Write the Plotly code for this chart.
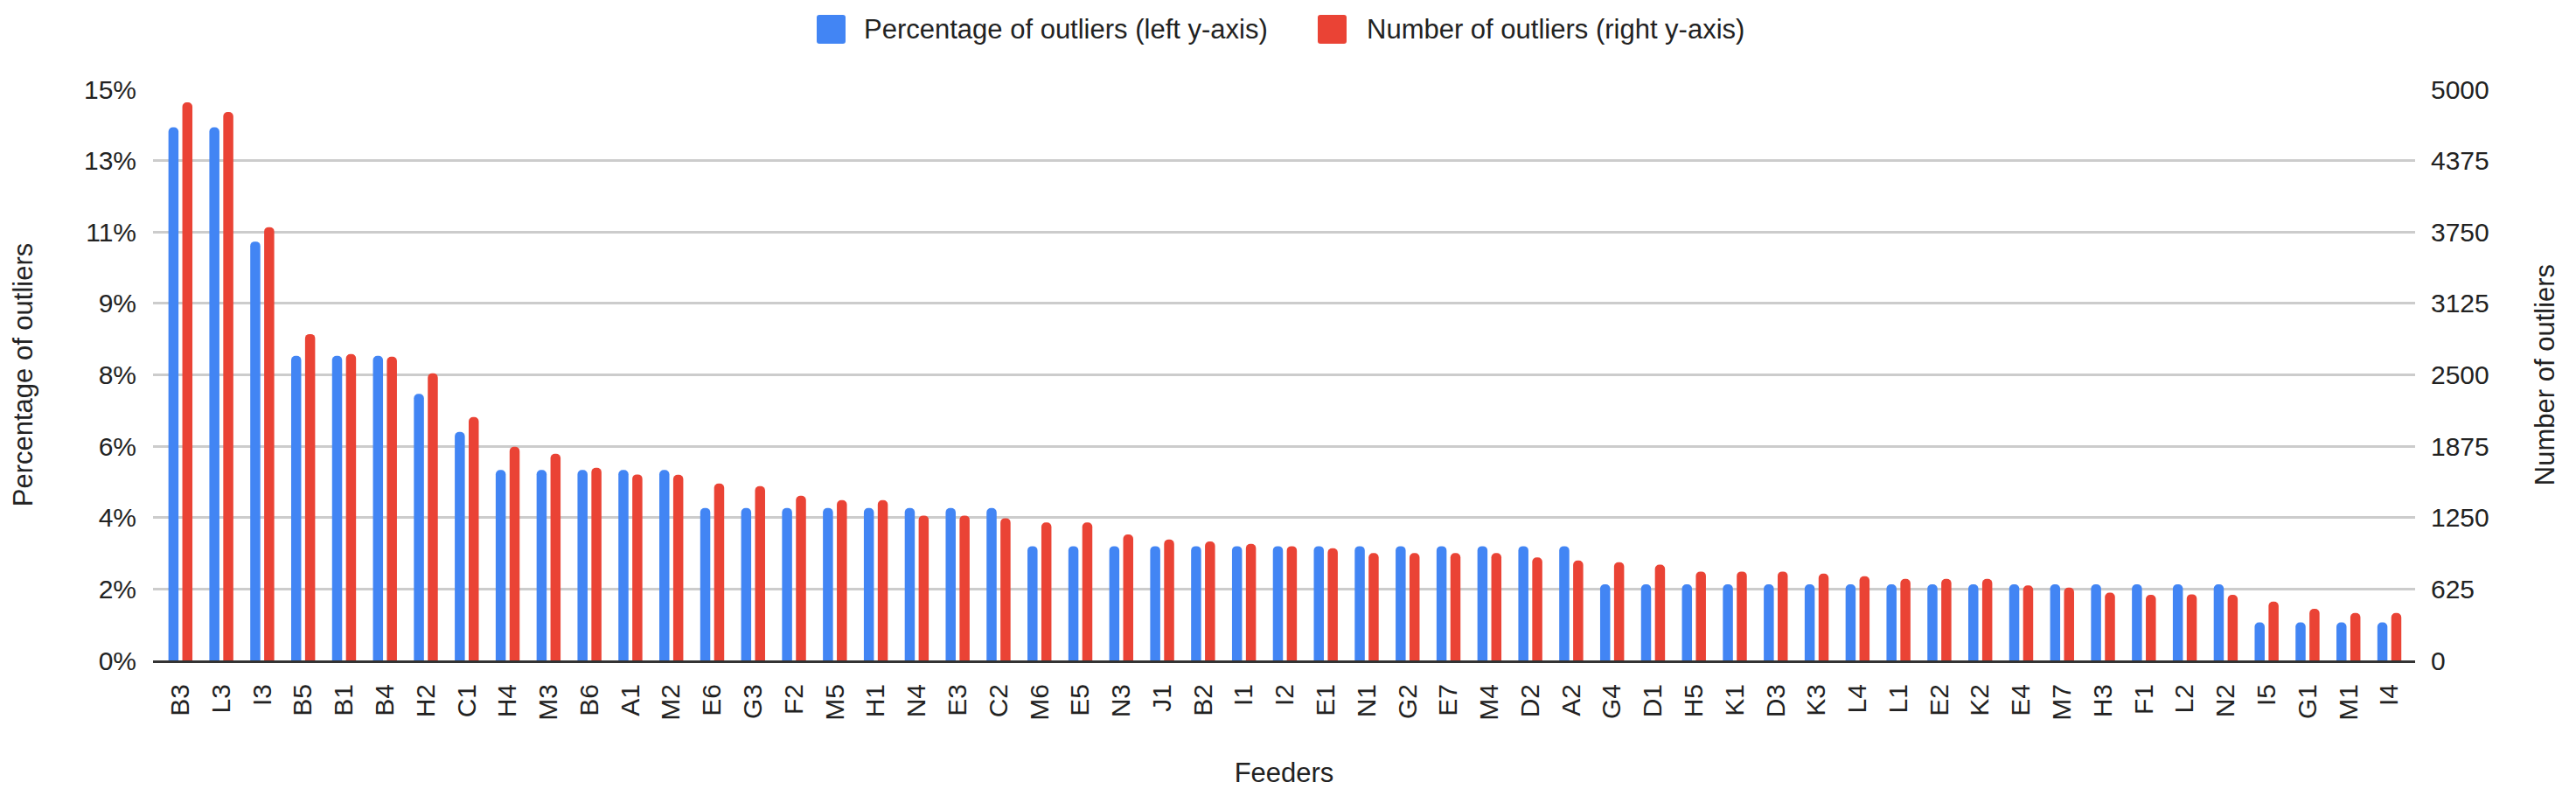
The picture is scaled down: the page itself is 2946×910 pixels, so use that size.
import plotly.graph_objects as go

# ---- data ----
feeders = ["B3", "L3", "I3", "B5", "B1", "B4", "H2", "C1", "H4", "M3", "B6", "A1", "M2",
           "E6", "G3", "F2", "M5", "H1", "N4", "E3", "C2", "M6", "E5", "N3", "J1", "B2",
           "I1", "I2", "E1", "N1", "G2", "E7", "M4", "D2", "A2", "G4", "D1", "H5", "K1",
           "D3", "K3", "L4", "L1", "E2", "K2", "E4", "M7", "H3", "F1", "L2", "N2", "I5",
           "G1", "M1", "I4"]

pct_outliers = [14, 14, 11, 8, 8, 8, 7, 6, 5, 5, 5, 5, 5,
                4, 4, 4, 4, 4, 4, 4, 4, 3, 3, 3, 3, 3,
                3, 3, 3, 3, 3, 3, 3, 3, 3, 2, 2, 2, 2,
                2, 2, 2, 2, 2, 2, 2, 2, 2, 2, 2, 2, 1,
                1, 1, 1]

num_outliers = [4885, 4801, 3793, 2857, 2681, 2658, 2513, 2130, 1870, 1809, 1686, 1628, 1625,
                1548, 1525, 1441, 1403, 1403, 1268, 1268, 1245, 1207, 1207, 1102, 1059, 1041,
                1020, 1000, 982, 939, 939, 939, 939, 901, 875, 860, 839, 778, 778,
                778, 760, 737, 714, 714, 714, 656, 638, 594, 574, 579, 574, 515,
                452, 416, 416]

left_tick_vals = [0, 1.875, 3.75, 5.625, 7.5, 9.375, 11.25, 13.125, 15]
left_tick_text = ["0%", "2%", "4%", "6%", "8%", "9%", "11%", "13%", "15%"]
right_tick_vals = [0, 625, 1250, 1875, 2500, 3125, 3750, 4375, 5000]

series_names = ["Percentage of outliers (left y-axis)", "Number of outliers (right y-axis)"]

BLUE = "#4285F4"
RED = "#EA4335"
FONT = "Liberation Sans, Arial, sans-serif"
TXT = "#222222"

W, H = 2946, 910
ML, MR, MT, MB = 175, 184, 102, 155
PW, PH = W - ML - MR, H - MT - MB


def px_x(px):
    return (px - ML) / PW


def px_y(py):
    return 1 + (MT - py) / PH


def rounded_rect(x0, y0, x1, y1, r):
    # pixel rect -> paper-coordinate SVG path with rounded corners
    rx, ry = r / PW, r / PH
    X0, X1 = px_x(x0), px_x(x1)
    Y0, Y1 = px_y(y0), px_y(y1)  # Y0 is top (larger)
    return (f"M {X0 + rx},{Y0} L {X1 - rx},{Y0} Q {X1},{Y0} {X1},{Y0 - ry} "
            f"L {X1},{Y1 + ry} Q {X1},{Y1} {X1 - rx},{Y1} L {X0 + rx},{Y1} "
            f"Q {X0},{Y1} {X0},{Y1 + ry} L {X0},{Y0 - ry} Q {X0},{Y0} {X0 + rx},{Y0} Z")


fig = go.Figure()
fig.add_trace(go.Bar(
    x=feeders, y=pct_outliers, name=series_names[0],
    marker=dict(color=BLUE, cornerradius=5, line=dict(width=0)),
    yaxis="y", offsetgroup="1", showlegend=False))
fig.add_trace(go.Bar(
    x=feeders, y=num_outliers, name=series_names[1],
    marker=dict(color=RED, cornerradius=5, line=dict(width=0)),
    yaxis="y2", offsetgroup="2", showlegend=False))

# legend drawn as swatches + text (reference uses large rounded swatches)
legend_items = [(series_names[0], BLUE, 934, 986), (series_names[1], RED, 1507, 1561)]
shapes, annotations = [], []
for name, color, sx, tx in legend_items:
    shapes.append(dict(type="path", xref="paper", yref="paper",
                       path=rounded_rect(sx, 17, sx + 33, 50, 3),
                       fillcolor=color, line=dict(width=0)))
    annotations.append(dict(text=name, xref="paper", yref="paper", x=px_x(tx), y=px_y(33),
                            xanchor="left", yanchor="middle", showarrow=False,
                            font=dict(size=31, color=TXT, family=FONT)))

fig.update_layout(
    width=W, height=H,
    margin=dict(l=ML, r=MR, t=MT, b=MB),
    paper_bgcolor="white", plot_bgcolor="white",
    font=dict(family=FONT, size=30, color=TXT),
    barmode="group", bargap=0.32, bargroupgap=0.277,
    showlegend=False,
    shapes=shapes, annotations=annotations,
    xaxis=dict(type="category", range=[-0.67, 54.63], tickangle=-90,
               tickfont=dict(size=30, color=TXT), showgrid=False,
               showline=True, linecolor="#333333", linewidth=3, ticks="",
               ticklabelstandoff=12,
               title=dict(text="Feeders", font=dict(size=31, color=TXT), standoff=50)),
    yaxis=dict(range=[0, 15], tickvals=left_tick_vals, ticktext=left_tick_text,
               showgrid=True, gridcolor="#cccccc", gridwidth=3, zeroline=False,
               showline=False, ticks="", ticklabelstandoff=18,
               tickfont=dict(size=30, color=TXT),
               title=dict(text="Percentage of outliers", font=dict(size=31, color=TXT), standoff=49)),
    yaxis2=dict(range=[0, 5000], tickvals=right_tick_vals, overlaying="y", side="right",
                showgrid=False, zeroline=False, showline=False, ticks="",
                ticklabelstandoff=17, tickfont=dict(size=30, color=TXT),
                title=dict(text="Number of outliers", font=dict(size=31, color=TXT), standoff=53)),
)

fig.write_html("out.html", config={"displayModeBar": False},
               post_script="document.body.style.margin='0';document.body.style.overflow='hidden';")
